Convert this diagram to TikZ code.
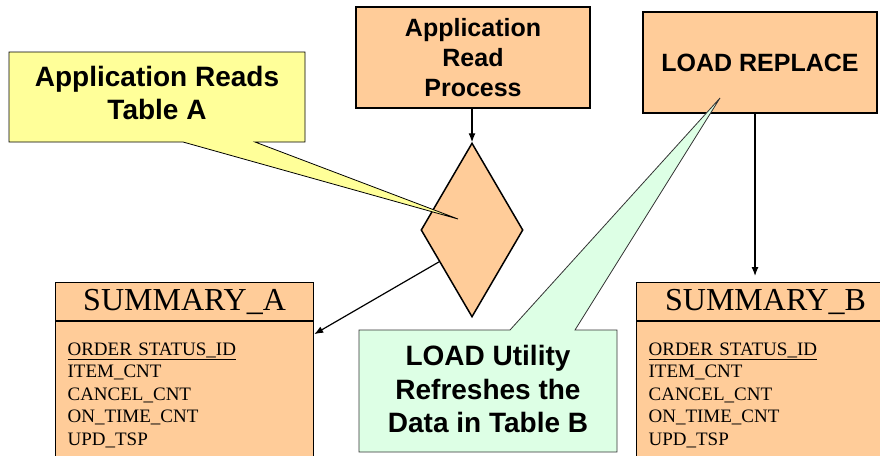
\documentclass[tikz,border=0pt]{standalone}
\usepackage{fontspec}
\setmainfont{Liberation Serif}
\newfontfamily\labelfont{Liberation Sans}
\usetikzlibrary{shapes, arrows.meta, positioning}
\definecolor{peach}{RGB}{255,204,153}
\definecolor{noteyellow}{RGB}{255,255,153}
\definecolor{notegreen}{RGB}{221,255,229}

\begin{document}
\begin{tikzpicture}[x=1pt, y=-1pt, >={Latex[length=9pt, width=7pt]},
    procbox/.style={draw, line width=1.5pt, fill=peach, inner sep=0pt, minimum width=234pt, minimum height=101pt, align=center, font=\labelfont\bfseries\fontsize{25}{30}\selectfont},
    notetext/.style={align=center, font=\labelfont\bfseries\fontsize{28}{33.5}\selectfont},
    tabtitle/.style={draw, line width=1.2pt, fill=peach, minimum width=258pt, minimum height=38pt, inner sep=0pt, font=\fontsize{32}{32}\selectfont},
    tabbody/.style={draw, line width=1.2pt, fill=peach, text width=234pt, inner xsep=12pt, inner ysep=21pt, align=left, font=\fontsize{19}{22.5}\selectfont}]
    \useasboundingbox (0,0) rectangle (880,455);

    \node [procbox] (readproc) at (473,57.5) {Application\\Read\\Process};
    \node [procbox] (loadrep) at (760,62.5) {LOAD REPLACE};
    \node [diamond, draw, line width=1.5pt, fill=peach, minimum width=102pt, minimum height=174pt, inner sep=0pt] (dia) at (472,230) {};

    \node [tabtitle, anchor=north west] (sumAtitle) at (55,282) {SUMMARY\_A\hspace{12pt}};
    \node [tabbody, below=0pt of sumAtitle] (sumA) {\underline{ORDER STATUS\_ID}\\ITEM\_CNT\\CANCEL\_CNT\\ON\_TIME\_CNT\\UPD\_TSP};
    \node [tabtitle, anchor=north west] (sumBtitle) at (636,282) {SUMMARY\_B\hspace{12pt}};
    \node [tabbody, below=0pt of sumBtitle] (sumB) {\underline{ORDER STATUS\_ID}\\ITEM\_CNT\\CANCEL\_CNT\\ON\_TIME\_CNT\\UPD\_TSP};

    \draw [->, line width=1.2pt] (readproc.south -| dia.north) -- (dia.north);
    \draw [->, line width=1.2pt] (dia.224) -- ([yshift=-13pt]sumA.north east);
    \draw [->, line width=1.2pt, shorten >=6pt] ([xshift=-5pt]loadrep.south) -- ([xshift=-5pt]loadrep.south |- sumBtitle.north);

    \coordinate (tipA) at (458,219);
    \coordinate (tipB) at (720,98);
    \filldraw [fill=noteyellow, line width=0.8pt] (9,52) -- (305,52) -- (305,142) -- (255,142) -- (tipA) -- (183,142) -- (9,142) -- cycle;
    \node [notetext] (noteA) at (157,93) {Application Reads\\Table A};
    \filldraw [fill=notegreen, draw=black!80, line width=0.8pt] (359,330) -- (510,330) -- (tipB) -- (575,330) -- (617,330) -- (617,452) -- (359,452) -- cycle;
    \node [notetext] (noteB) at (488,389) {LOAD Utility\\Refreshes the\\Data in Table B};
\end{tikzpicture}
\end{document}
